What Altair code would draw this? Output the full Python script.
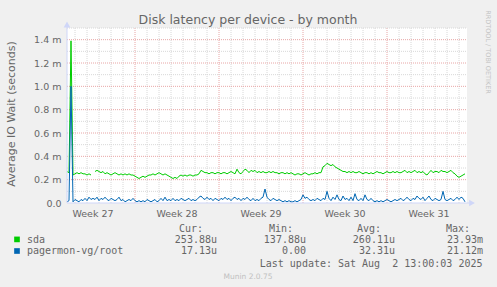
import altair as alt
import pandas as pd
import numpy as np

# ---------------- texts ----------------
title_text = "Disk latency per device - by month"
y_title = "Average IO Wait (seconds)"
watermark = "RRDTOOL / TOBI OETIKER"
footer = "Munin 2.0.75"
last_update = "Last update: Sat Aug\u00a0 2 13:00:03 2025"

series_names = ["sda", "pagermon-vg/root"]
series_colors = ["#00CC00", "#0066B3"]
header_labels = ["Cur:", "Min:", "Avg:", "Max:"]
cur_vals = ["253.88u", "17.13u"]
min_vals = ["137.88u", "0.00"]
avg_vals = ["260.11u", "32.31u"]
max_vals = ["23.93m", "21.12m"]

week_labels = ["Week 27", "Week 28", "Week 29", "Week 30", "Week 31"]
week_mids = ["2025-07-02 12:00", "2025-07-09 12:00", "2025-07-16 12:00",
             "2025-07-23 12:00", "2025-07-30 12:00"]
week_starts = ["2025-07-06", "2025-07-13", "2025-07-20", "2025-07-27"]

y_ticks = [0.0, 0.0002, 0.0004, 0.0006, 0.0008, 0.0010, 0.0012, 0.0014]
y_minor = [0.0001, 0.0003, 0.0005, 0.0007, 0.0009, 0.0011, 0.0013, 0.0015]
y_major = [0.0002, 0.0004, 0.0006, 0.0008, 0.0010, 0.0012, 0.0014]

range_start = "2025-06-30 08:00"
range_end = "2025-08-02 16:00"

# ---------------- series (milliseconds of IO wait) ----------------
sda_ms = [
    0.27, 0.26, 1.39, 0.24, 0.25, 0.26, 0.25, 0.26, 0.25, 0.25,
    0.24, 0.25, 0.24, None, 0.27, 0.28, 0.27, 0.26, 0.27, 0.25,
    0.26, 0.25, 0.24, 0.25, 0.26, 0.25, 0.24, 0.25, 0.24, 0.25,
    0.24, 0.25, 0.24, 0.24, 0.23, 0.22, 0.21, 0.22, 0.23, 0.22,
    0.23, 0.24, 0.24, 0.25, 0.24, 0.25, 0.26, 0.25, 0.24, 0.25,
    0.24, 0.23, 0.22, 0.21, 0.22, 0.21, 0.23, 0.24, 0.23, 0.24,
    0.23, 0.24, 0.24, 0.23, 0.24, 0.24, 0.25, 0.28, 0.27, 0.26,
    0.26, 0.25, 0.26, 0.26, 0.25, 0.26, 0.26, 0.25, 0.26, 0.26,
    0.25, 0.26, 0.27, 0.26, 0.25, 0.29, 0.26, 0.25, 0.27, 0.29,
    0.28, 0.26, 0.28, 0.27, 0.28, 0.26, 0.27, 0.26, 0.27, 0.26,
    0.26, 0.27, 0.26, 0.27, 0.26, 0.26, 0.25, 0.26, 0.26, 0.25,
    0.26, 0.25, 0.26, 0.25, 0.24, 0.25, 0.25, 0.24, 0.25, 0.26,
    0.25, 0.24, 0.25, 0.25, 0.26, 0.25, 0.26, 0.26, 0.31, 0.32,
    0.34, 0.33, 0.32, 0.33, 0.31, 0.30, 0.29, 0.28, 0.27, 0.27,
    0.26, 0.27, 0.26, 0.27, 0.26, 0.26, 0.27, 0.26, 0.25, 0.26,
    0.26, 0.25, 0.26, 0.25, 0.26, 0.27, 0.26, 0.26, 0.25, 0.26,
    0.27, 0.26, 0.26, 0.27, 0.26, 0.27, 0.26, 0.26, 0.27, 0.28,
    0.26, 0.27, 0.26, 0.27, 0.28, 0.26, 0.27, 0.26, 0.27, 0.25,
    0.24, 0.26, 0.28, 0.26, 0.27, 0.27, 0.26, 0.28, 0.27, 0.27,
    0.26, 0.27, 0.28, 0.26, 0.25, 0.23, 0.22, 0.23, 0.24, 0.25,
]
root_ms = [
    0.01, 0.02, 1.00, 0.01, 0.03, 0.02, 0.01, 0.03, 0.02, 0.04,
    0.02, 0.05, 0.03, 0.04, 0.03, 0.05, 0.02, 0.04, 0.03, 0.05,
    0.03, 0.02, 0.04, 0.03, 0.02, 0.03, 0.05, 0.02, 0.03, 0.01,
    0.02, 0.03, 0.02, 0.04, 0.02, 0.01, 0.02, 0.01, 0.02, 0.01,
    0.03, 0.02, 0.01, 0.02, 0.03, 0.01, 0.02, 0.04, 0.02, 0.05,
    0.02, 0.03, 0.02, 0.04, 0.02, 0.03, 0.02, 0.04, 0.03, 0.02,
    0.03, 0.04, 0.02, 0.03, 0.02, 0.03, 0.05, 0.06, 0.04, 0.03,
    0.05, 0.03, 0.04, 0.02, 0.04, 0.03, 0.02, 0.04, 0.03, 0.05,
    0.03, 0.04, 0.02, 0.04, 0.05, 0.03, 0.04, 0.02, 0.04, 0.03,
    0.05, 0.03, 0.02, 0.04, 0.02, 0.03, 0.02, 0.04, 0.05, 0.12,
    0.05, 0.03, 0.02, 0.04, 0.03, 0.02, 0.03, 0.02, 0.01, 0.02,
    0.01, 0.02, 0.01, 0.01, 0.02, 0.01, 0.02, 0.03, 0.07, 0.04,
    0.05, 0.03, 0.02, 0.03, 0.02, 0.04, 0.03, 0.02, 0.04, 0.03,
    0.10, 0.04, 0.02, 0.05, 0.03, 0.07, 0.03, 0.02, 0.06, 0.03,
    0.04, 0.02, 0.05, 0.02, 0.08, 0.03, 0.02, 0.04, 0.02, 0.07,
    0.03, 0.02, 0.04, 0.02, 0.01, 0.02, 0.01, 0.02, 0.01, 0.02,
    0.03, 0.02, 0.01, 0.02, 0.03, 0.02, 0.03, 0.04, 0.02, 0.03,
    0.05, 0.03, 0.02, 0.04, 0.03, 0.06, 0.04, 0.03, 0.05, 0.02,
    0.04, 0.06, 0.03, 0.02, 0.04, 0.03, 0.02, 0.03, 0.10, 0.03,
    0.02, 0.03, 0.04, 0.02, 0.03, 0.05, 0.03, 0.05, 0.04, 0.01,
]

# ---------------- layout constants ----------------
W, H = 400, 175
FONT = "DejaVu Sans"
MONO = "DejaVu Sans Mono"
TXT = "#666666"
AXIS_C = "#CFD6F8"
GRID_MINOR = "#D8D8D8"
GRID_MAJOR = "#E8A6A6"


def ms(s):
    return int(pd.Timestamp(s, tz="UTC").value // 10**6)


t0, t1 = ms(range_start), ms(range_end)
n = len(sda_ms)
step = (t1 - t0) / n
times = [t0 + i * step for i in range(n)]

df = pd.DataFrame({
    "t": times,
    "sda": np.array(sda_ms, dtype=float) / 1000.0,
    "root": np.array(root_ms, dtype=float) / 1000.0,
})

XS = alt.Scale(type="utc", domain=[t0, t1])
YS = alt.Scale(domain=[0, 0.0015], nice=False, zero=True)
Y_AXIS = alt.Axis(values=y_ticks, title=None, ticks=False, tickSize=0, domain=False,
                  grid=False, labelPadding=6, labelFont=FONT, labelFontSize=9.5,
                  labelColor=TXT,
                  labelExpr="datum.value == 0 ? '0.0' : format(datum.value*1000, '.1f') + ' m'")

# day grid
days = pd.date_range("2025-07-01", "2025-08-02", freq="D", tz="UTC")
week_set = set(ms(w) for w in week_starts)
day_ms = [int(d.value // 10**6) for d in days]
minor_days = pd.DataFrame({"t": [d for d in day_ms if d not in week_set]})
major_days = pd.DataFrame({"t": [ms(w) for w in week_starts]})

vminor = alt.Chart(minor_days).mark_rule(color=GRID_MINOR, strokeDash=[1, 1], strokeWidth=1).encode(
    x=alt.X("t:T", scale=XS, axis=None), y=alt.value(0), y2=alt.value(H))
vmajor = alt.Chart(major_days).mark_rule(color=GRID_MAJOR, strokeDash=[1, 1], strokeWidth=1).encode(
    x=alt.X("t:T", scale=XS, axis=None), y=alt.value(0), y2=alt.value(H))

hminor = alt.Chart(pd.DataFrame({"v": y_minor})).mark_rule(color=GRID_MINOR, strokeDash=[1, 1]).encode(
    y=alt.Y("v:Q", scale=YS, axis=Y_AXIS), x=alt.value(0), x2=alt.value(W))
hmajor = alt.Chart(pd.DataFrame({"v": y_major})).mark_rule(color=GRID_MAJOR, strokeDash=[1, 1]).encode(
    y=alt.Y("v:Q", scale=YS, axis=Y_AXIS), x=alt.value(0), x2=alt.value(W))

line_sda = alt.Chart(df).mark_line(color=series_colors[0], strokeWidth=1).encode(
    x=alt.X("t:T", scale=XS, axis=None), y=alt.Y("sda:Q", scale=YS, axis=Y_AXIS))
line_root = alt.Chart(df).mark_line(color=series_colors[1], strokeWidth=1).encode(
    x=alt.X("t:T", scale=XS, axis=None), y=alt.Y("root:Q", scale=YS, axis=Y_AXIS))

# axis lines & arrows
one = pd.DataFrame({"k": [0]})
yline = alt.Chart(one).mark_rule(color=AXIS_C, strokeWidth=1).encode(
    x=alt.value(0), y=alt.value(H), y2=alt.value(-1))
xline = alt.Chart(one).mark_rule(color=AXIS_C, strokeWidth=1).encode(
    x=alt.value(0), x2=alt.value(W + 2), y=alt.value(H))
yarrow = alt.Chart(one).mark_point(shape="triangle-up", filled=True, color=AXIS_C, size=45, opacity=1).encode(
    x=alt.value(0), y=alt.value(-3.5))
xarrow = alt.Chart(one).mark_point(shape="triangle-right", filled=True, color=AXIS_C, size=45, opacity=1).encode(
    x=alt.value(W + 5), y=alt.value(H))

# week labels
wk = pd.DataFrame({"t": [ms(w) for w in week_mids], "label": week_labels})
week_text = alt.Chart(wk).mark_text(font=FONT, fontSize=9.5, color=TXT, align="center",
                                    baseline="alphabetic").encode(
    x=alt.X("t:T", scale=XS, axis=None), y=alt.value(188.7), text="label:N")


def txt(s, x, y, **kw):
    props = dict(font=FONT, fontSize=10, color=TXT, align="left", baseline="alphabetic")
    props.update(kw)
    return alt.Chart(pd.DataFrame({"s": [s]})).mark_text(**props).encode(
        x=alt.value(x), y=alt.value(y), text="s:N")


layers = [vminor, vmajor, hminor, hmajor, line_sda, line_root, yline, xline, yarrow, xarrow, week_text]

layers.append(txt(title_text, 181, -4, fontSize=12.5, align="center"))
layers.append(txt(y_title, -55, 86, fontSize=11, align="center", baseline="middle", angle=270))
layers.append(txt(watermark, 421, 24, fontSize=6.5, align="center", baseline="middle", angle=90,
                  color="#C4C4C4"))

# legend
header_x = [136, 226, 314, 403]
value_x = [150, 239, 328, 416]
for h, hx in zip(header_labels, header_x):
    layers.append(txt(h, hx, 203.5, font=MONO, align="right"))

row_y = [214.7, 226.3]
for r in range(2):
    ry = row_y[r]
    layers.append(alt.Chart(pd.DataFrame({"s": [series_names[r]]})).mark_square(
        color=series_colors[r], size=32, opacity=1, filled=True).encode(
        x=alt.value(-50), y=alt.value(ry - 3.3)))
    layers.append(txt(series_names[r], -40, ry, font=MONO))
    for vals, vx in zip([cur_vals, min_vals, avg_vals, max_vals], value_x):
        layers.append(txt(vals[r], vx, ry, font=MONO, align="right"))

layers.append(txt(last_update, 415.5, 238.5, font=MONO, align="right"))
layers.append(txt(footer, 181, 250.5, fontSize=7.5, align="center", color="#C0C0C0"))

chart = alt.layer(*layers).properties(
    width=W, height=H, background="#F0F0F0",
    autosize=alt.AutoSizeParams(type="none"),
    padding={"left": 67, "top": 28, "right": 30, "bottom": 84},
).configure_view(stroke=None, fill="#FFFFFF")

chart.save("out.html", embed_options={"renderer": "svg", "actions": False})
